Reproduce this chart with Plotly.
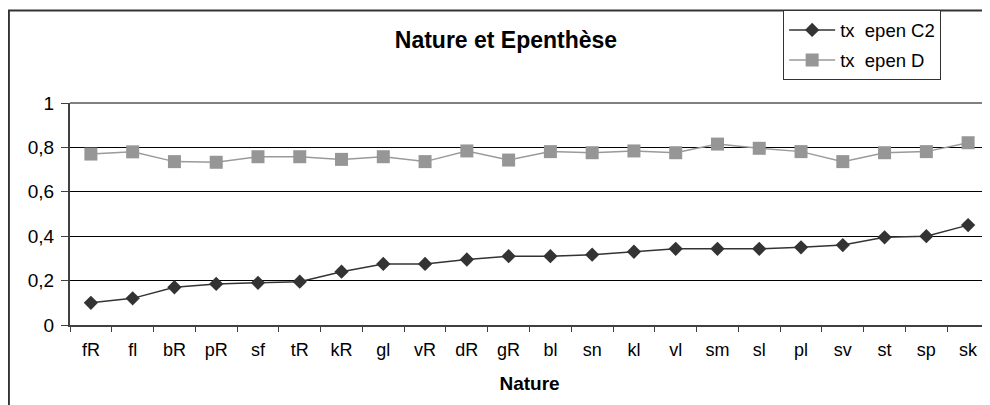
import plotly.graph_objects as go

# categories (x axis) and series
natures = ['fR', 'fl', 'bR', 'pR', 'sf', 'tR', 'kR', 'gl', 'vR', 'dR', 'gR',
           'bl', 'sn', 'kl', 'vl', 'sm', 'sl', 'pl', 'sv', 'st', 'sp', 'sk']
tx_epen_c2 = [0.10, 0.12, 0.17, 0.185, 0.19, 0.195, 0.24, 0.275, 0.275, 0.295, 0.31,
              0.31, 0.317, 0.33, 0.343, 0.343, 0.343, 0.35, 0.36, 0.395, 0.40, 0.45]
tx_epen_d = [0.77, 0.78, 0.736, 0.733, 0.758, 0.758, 0.746, 0.758, 0.736, 0.784, 0.743,
             0.781, 0.776, 0.784, 0.776, 0.815, 0.796, 0.781, 0.736, 0.776, 0.781, 0.821]
y_ticks = [0, 0.2, 0.4, 0.6, 0.8, 1]
y_labels = ['0', '0,2', '0,4', '0,6', '0,8', '1']

FONT = 'Arial, Liberation Sans, sans-serif'

fig = go.Figure()
fig.add_trace(go.Scatter(
    x=natures, y=tx_epen_c2, name='tx  epen C2', mode='lines+markers',
    legendgroup='c2',
    line=dict(color='#333333', width=1.5),
    marker=dict(symbol='diamond', size=11, color='#333333'),
))
fig.add_trace(go.Scatter(
    x=natures, y=tx_epen_d, name='tx  epen D', mode='lines+markers',
    legendgroup='d',
    line=dict(color='#9a9a9a', width=1.5),
    marker=dict(symbol='square', size=13, color='#969696'),
))

# the page body adds 8px on the left and top, margins are set for that
fig.update_layout(
    width=990, height=405,
    margin=dict(l=62, r=9, t=95, b=88, autoexpand=False),
    paper_bgcolor='white', plot_bgcolor='white',
    font=dict(family=FONT, size=18, color='black'),
    title=dict(text='<b>Nature et Epenthèse</b>', x=0.503, xanchor='center',
               y=0.921, yanchor='middle', font=dict(size=23, family=FONT, color='black')),
    showlegend=True,
    legend=dict(x=0.776, xanchor='left', y=1.417, yanchor='top',
                bgcolor='white', bordercolor='#333333', borderwidth=1,
                tracegroupgap=3, itemwidth=46, font=dict(size=18.5, family=FONT),
                itemclick=False),
    xaxis=dict(
        type='category', range=[-0.5, len(natures) - 0.5],
        showline=True, linecolor='#404040', linewidth=2,
        ticks='outside', tickson='boundaries', ticklen=5, tickcolor='#404040',
        showgrid=False, tickfont=dict(size=18), ticklabelstandoff=7,
        title=dict(text='<b>Nature</b>', font=dict(size=19), standoff=18),
    ),
    yaxis=dict(
        range=[0, 1], tickvals=y_ticks, ticktext=y_labels,
        showline=True, linecolor='#404040', linewidth=2,
        ticks='outside', ticklen=7, tickcolor='#404040',
        showgrid=True, gridcolor='black', gridwidth=1, zeroline=False,
        tickfont=dict(size=19), ticklabelstandoff=3,
    ),
    shapes=[
        # outer chart border (extends past the picture on right and bottom)
        dict(type='rect', xref='paper', yref='paper', x0=-0.0665, x1=1.03,
             y0=-0.40, y1=1.417, line=dict(color='#333333', width=2),
             fillcolor='rgba(0,0,0,0)', layer='below'),
        # grey plot-area border on top and right
        dict(type='line', xref='paper', yref='paper', x0=0, x1=1, y0=1, y1=1,
             line=dict(color='#808080', width=2), layer='above'),
        dict(type='line', xref='paper', yref='paper', x0=1, x1=1, y0=0, y1=1,
             line=dict(color='#808080', width=2), layer='above'),
    ],
)

fig.write_html('out.html')
